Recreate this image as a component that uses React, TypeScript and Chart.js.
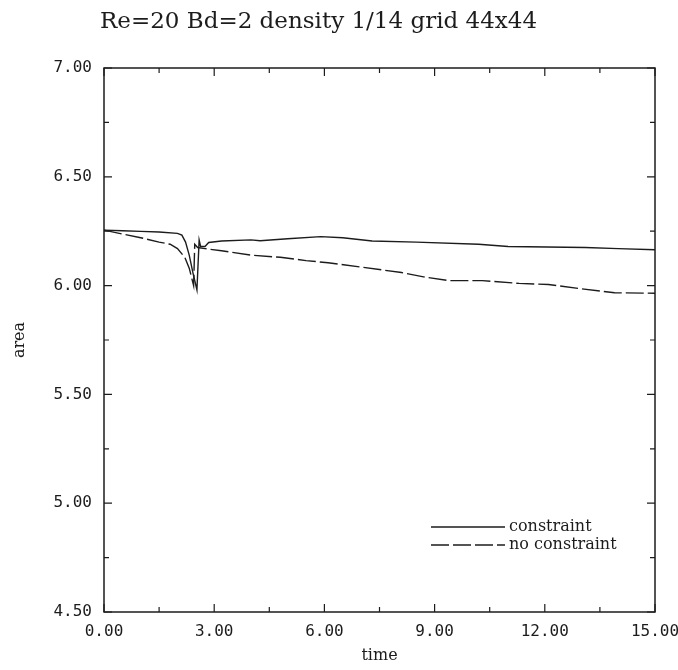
import React, { useEffect, useRef } from "react";
import { Chart, registerables } from "chart.js";

Chart.register(...registerables);

const titleText = "Re=20 Bd=2 density 1/14 grid 44x44";
const xTitle = "time";
const yTitle = "area";

const xTicks = [0, 3, 6, 9, 12, 15];
const xMinorTicks = [1.5, 4.5, 7.5, 10.5, 13.5];
const yTicks = [4.5, 5.0, 5.5, 6.0, 6.5, 7.0];
const yMinorTicks = [4.75, 5.25, 5.75, 6.25, 6.75];

const seriesLabels = ["constraint", "no constraint"];

const constraintTime = [
  0, 0.5, 1.0, 1.5, 2.0, 2.12, 2.22, 2.32, 2.42, 2.53, 2.59, 2.63, 2.75, 2.85,
  3.2, 4.0, 4.25, 5.0, 5.9, 6.5, 7.3, 8.5, 10.2, 11.0, 13.1, 14.0, 15.0,
];
const constraintArea = [
  6.255, 6.252, 6.249, 6.246, 6.24, 6.232, 6.2, 6.14, 6.06, 5.98, 6.21, 6.18,
  6.18, 6.198, 6.205, 6.21, 6.206, 6.215, 6.225, 6.22, 6.205, 6.2, 6.19, 6.18,
  6.175, 6.17, 6.165,
];

const noConstraintTime = [
  0, 0.5, 1.0, 1.5, 1.8, 2.0, 2.2, 2.32, 2.44, 2.47, 2.55, 2.75, 3.2, 4.0, 4.8,
  5.5, 6.1, 7.0, 8.1, 8.7, 9.4, 10.3, 11.3, 12.1, 13.0, 13.9, 15.0,
];
const noConstraintArea = [
  6.255, 6.237, 6.22, 6.2, 6.19, 6.17, 6.13, 6.08, 6.0, 6.19, 6.175, 6.17,
  6.16, 6.14, 6.13, 6.115, 6.105, 6.085, 6.06, 6.04, 6.023, 6.023, 6.01, 6.005,
  5.985, 5.967, 5.965,
];

const INK = "#1c1c1c";
const MONO = "'DejaVu Sans Mono', monospace";
const SERIF = "'DejaVu Serif', serif";

const framePlugin = {
  id: "framePlugin",
  afterDatasetsDraw(chart: any) {
    const { ctx, chartArea } = chart;
    const { left, right, top, bottom } = chartArea;
    const xs = chart.scales.x;
    const ys = chart.scales.y;
    ctx.save();

    // title
    ctx.font = `23px ${SERIF}`;
    ctx.fillStyle = INK;
    ctx.textAlign = "left";
    ctx.textBaseline = "middle";
    ctx.fillText(titleText, left - 4, top - 46);

    ctx.strokeStyle = INK;
    ctx.lineWidth = 1.5;
    ctx.setLineDash([]);
    ctx.strokeRect(left, top, right - left, bottom - top);
    ctx.lineWidth = 1.2;
    const tick = (vals: number[], len: number) => {
      for (const v of vals) {
        const px = xs.getPixelForValue(v);
        ctx.beginPath();
        ctx.moveTo(px, bottom);
        ctx.lineTo(px, bottom - len);
        ctx.moveTo(px, top);
        ctx.lineTo(px, top + len);
        ctx.stroke();
      }
    };
    const ytick = (vals: number[], len: number) => {
      for (const v of vals) {
        const py = ys.getPixelForValue(v);
        ctx.beginPath();
        ctx.moveTo(left, py);
        ctx.lineTo(left + len, py);
        ctx.moveTo(right, py);
        ctx.lineTo(right - len, py);
        ctx.stroke();
      }
    };
    tick(xTicks, 8);
    tick(xMinorTicks, 5);
    ytick(yTicks, 8);
    ytick(yMinorTicks, 5);

    // legend
    const datasets = chart.data.datasets;
    const x0 = right - 224;
    const x1 = right - 150;
    const tx = right - 146;
    const rows = [bottom - 85, bottom - 67];
    ctx.font = `16px ${SERIF}`;
    ctx.textBaseline = "middle";
    ctx.textAlign = "left";
    ctx.fillStyle = INK;
    datasets.forEach((ds: any, i: number) => {
      const y = rows[i];
      ctx.lineWidth = ds.borderWidth;
      ctx.strokeStyle = ds.borderColor;
      ctx.setLineDash(ds.borderDash || []);
      ctx.beginPath();
      ctx.moveTo(x0, y);
      ctx.lineTo(x1, y);
      ctx.stroke();
      ctx.setLineDash([]);
      ctx.fillText(ds.label, tx, y);
    });
    ctx.restore();
  },
};

export default function App() {
  const ref = useRef<HTMLCanvasElement | null>(null);
  useEffect(() => {
    if (!ref.current) return;
    const chart = new Chart(ref.current, {
      type: "line",
      data: {
        datasets: [
          {
            label: seriesLabels[0],
            data: constraintTime.map((t, i) => ({ x: t, y: constraintArea[i] })),
            borderColor: INK,
            borderWidth: 1.4,
            pointRadius: 0,
            tension: 0,
            fill: false,
          },
          {
            label: seriesLabels[1],
            data: noConstraintTime.map((t, i) => ({ x: t, y: noConstraintArea[i] })),
            borderColor: INK,
            borderWidth: 1.4,
            borderDash: [18, 4],
            pointRadius: 0,
            tension: 0,
            fill: false,
          },
        ],
      },
      options: {
        animation: false,
        responsive: false,
        layout: { padding: { left: 0, right: 23, top: 68, bottom: 0 } },
        plugins: {
          legend: { display: false },
          tooltip: { enabled: false },
          title: { display: false },
        },
        scales: {
          x: {
            type: "linear",
            min: 0,
            max: 15,
            afterBuildTicks: (s: any) => {
              s.ticks = xTicks.map((v) => ({ value: v }));
            },
            afterFit: (s: any) => {
              s.height = 58;
              s.paddingLeft = 0;
              s.paddingRight = 0;
            },
            grid: { display: false, drawTicks: false },
            border: { display: false },
            ticks: {
              padding: 10,
              color: INK,
              font: { family: MONO, size: 16 },
              maxRotation: 0,
              callback: (v: any) => Number(v).toFixed(2),
            },
            title: {
              display: true,
              text: xTitle,
              color: INK,
              font: { family: SERIF, size: 16 },
              padding: { top: 0, bottom: 5 },
            },
          },
          y: {
            type: "linear",
            min: 4.5,
            max: 7,
            afterBuildTicks: (s: any) => {
              s.ticks = yTicks.map((v) => ({ value: v }));
            },
            afterFit: (s: any) => {
              s.width = 104;
              s.paddingTop = 0;
              s.paddingBottom = 0;
            },
            grid: { display: false, drawTicks: false },
            border: { display: false },
            ticks: {
              padding: 12,
              color: INK,
              font: { family: MONO, size: 16 },
              callback: (v: any) => Number(v).toFixed(2),
            },
            title: {
              display: true,
              text: yTitle,
              color: INK,
              font: { family: SERIF, size: 16 },
              padding: { top: 10, bottom: 0 },
            },
          },
        },
      },
      plugins: [framePlugin],
    } as any);
    return () => chart.destroy();
  }, []);
  return (
    <div style={{ position: "fixed", left: 0, top: 0, width: 678, height: 670, background: "#fff" }}>
      <canvas ref={ref} width={678} height={670} />
    </div>
  );
}
